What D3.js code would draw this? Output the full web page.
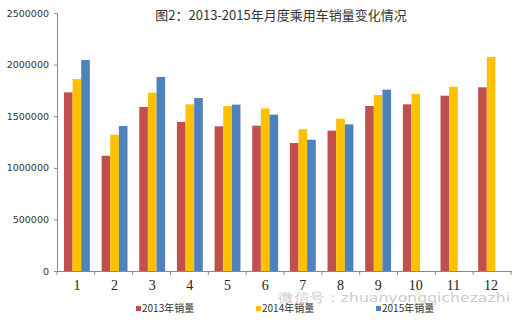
<!DOCTYPE html>
<html><head><meta charset="utf-8">
<script src="https://cdn.jsdelivr.net/npm/d3@7"></script>
<style>body{margin:0;background:#fff}svg{display:block}</style>
</head><body>
<script>
const months = ["1","2","3","4","5","6","7","8","9","10","11","12"];
const seriesNames = ["2013年销量","2014年销量","2015年销量"];
const sales2013 = [1731000,1117000,1589000,1444000,1402000,1408000,1240000,1360000,1599000,1615000,1699000,1780000];
const sales2014 = [1860000,1321000,1728000,1615000,1599000,1576000,1373000,1476000,1705000,1715000,1786000,2074000];
const sales2015 = [2045000,1405000,1880000,1676000,1612000,1515000,1272000,1421000,1757000,null,null,null];
const yTicks = [0,500000,1000000,1500000,2000000,2500000];
const colors = ["#C0504D","#FFC000","#4F81BD"];
const titleText = "图2：2013-2015年月度乘用车销量变化情况";
const watermark = "微信号：zhuanyongqichezazhi";

const W=528,H=325;
const svg=d3.select("body").append("svg").attr("width",W).attr("height",H);
const mL=57,mR=511,mT=13,mB=271;
const x=d3.scaleBand().domain(months).range([mL,mR]).paddingInner(0.313).paddingOuter(0.185);
const xs=d3.scaleBand().domain([0,1,2]).range([0,x.bandwidth()]);
const y=d3.scaleLinear().domain([0,2500000]).range([mB,mT]);

svg.append("text").attr("x",281).attr("y",20).attr("text-anchor","middle")
  .attr("font-family","'Noto Sans CJK SC',sans-serif").attr("font-size",13).attr("fill","#333").text(titleText);

const all=[sales2013,sales2014,sales2015];
all.forEach((arr,si)=>{
  svg.append("g").selectAll("rect").data(arr.map((v,i)=>({v,m:months[i]})).filter(d=>d.v!=null))
   .join("rect").attr("x",d=>x(d.m)+xs(si)).attr("width",xs.bandwidth())
   .attr("y",d=>y(d.v)).attr("height",d=>mB-y(d.v)).attr("fill",colors[si]);
});

const ya=svg.append("g").attr("transform",`translate(${mL},0)`)
  .call(d3.axisLeft(y).tickValues(yTicks).tickFormat(d3.format("d")).tickSize(3).tickPadding(5));
ya.select(".domain").attr("stroke","#888");
ya.selectAll(".tick line").attr("stroke","#888");
ya.selectAll("text").attr("font-family","'DejaVu Sans',sans-serif").attr("font-size",9.5).attr("fill","#333");

const xa=svg.append("g").attr("transform",`translate(0,${mB})`)
  .call(d3.axisBottom(x).tickSize(0).tickPadding(9));
xa.select(".domain").attr("stroke","#888");
xa.selectAll("text").attr("font-family","'Liberation Serif',serif").attr("font-size",14).attr("fill","#222");
svg.append("g").selectAll("line").data(d3.range(13)).join("line")
  .attr("x1",i=>mL+(mR-mL)/12*i).attr("x2",i=>mL+(mR-mL)/12*i)
  .attr("y1",mB).attr("y2",mB+4).attr("stroke","#888");

svg.append("text").attr("x",278).attr("y",302).attr("font-family","'DejaVu Sans',sans-serif")
  .attr("font-size",13).attr("fill","#cccccc").attr("textLength",232).attr("lengthAdjust","spacingAndGlyphs").text(watermark);

const lg=[136,256,376];
seriesNames.forEach((n,i)=>{
  const g=svg.append("g").attr("transform",`translate(${lg[i]},309)`);
  g.append("rect").attr("x",0).attr("y",-3).attr("width",5).attr("height",5).attr("fill",colors[i]);
  g.append("text").attr("x",6).attr("y",0).attr("dominant-baseline","middle").attr("font-family","'Noto Sans CJK SC',sans-serif")
   .attr("font-size",10).attr("fill","#333").text(n);
});
</script>
</body></html>
